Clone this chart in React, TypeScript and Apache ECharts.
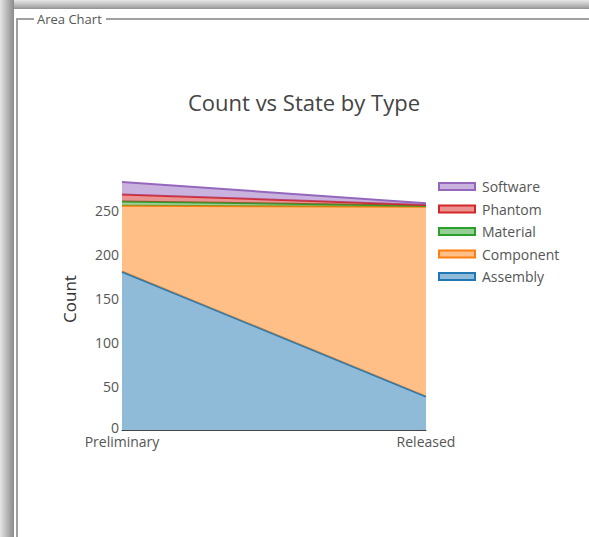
import React, { useEffect, useRef } from "react";
import * as echarts from "echarts";

const categories = ["Preliminary", "Released"];
const seriesNames = ["Assembly", "Component", "Material", "Phantom", "Software"];
const assembly = [180, 38];
const component = [75, 216];
const material = [5, 1];
const phantom = [8, 1];
const software = [14, 2];
const yTicks = [0, 50, 100, 150, 200, 250];
const legendOrder = ["Software", "Phantom", "Material", "Component", "Assembly"];

const colors: Record<string, string> = {
  Assembly: "#1f77b4",
  Component: "#ff7f0e",
  Material: "#2ca02c",
  Phantom: "#d62728",
  Software: "#9467bd",
};

function rgba(hex: string, a: number) {
  const r = parseInt(hex.slice(1, 3), 16);
  const g = parseInt(hex.slice(3, 5), 16);
  const b = parseInt(hex.slice(5, 7), 16);
  return `rgba(${r},${g},${b},${a})`;
}

export default function App() {
  const ref = useRef<HTMLDivElement>(null);
  useEffect(() => {
    if (!ref.current) return;
    const chart = echarts.init(ref.current, undefined, { renderer: "svg" });
    const values = [assembly, component, material, phantom, software];
    const font = "'Open Sans', 'Noto Sans', sans-serif";
    chart.setOption({
      animation: false,
      backgroundColor: "#ffffff",
      textStyle: { fontFamily: font },
      graphic: [
        {
          type: "rect",
          silent: true,
          z: -10,
          shape: { x: 0, y: 0, width: 589, height: 537 },
          style: { fill: "#c4c4c4" },
        },
        {
          type: "rect",
          silent: true,
          z: -9,
          shape: { x: 0, y: 0, width: 14, height: 537 },
          style: {
            fill: new echarts.graphic.LinearGradient(0, 0, 1, 0, [
              { offset: 0, color: "#e6e6e6" },
              { offset: 0.8, color: "#9c9c9c" },
              { offset: 1, color: "#8a8a8a" },
            ]),
          },
        },
        {
          type: "rect",
          silent: true,
          z: -9,
          shape: { x: 14, y: 0, width: 575, height: 9 },
          style: {
            fill: new echarts.graphic.LinearGradient(0, 0, 0, 1, [
              { offset: 0, color: "#e8e8e8" },
              { offset: 0.8, color: "#a8a8a8" },
              { offset: 1, color: "#909090" },
            ]),
          },
        },
        {
          type: "rect",
          silent: true,
          z: -8,
          shape: { x: 14, y: 9, width: 575, height: 528 },
          style: { fill: "#ffffff" },
        },
        {
          type: "polyline",
          silent: true,
          z: -7,
          shape: { points: [[34, 19], [17, 19], [17, 537]] },
          style: { stroke: "#a0a0a0", lineWidth: 2, fill: null },
        },
        {
          type: "line",
          silent: true,
          z: -7,
          shape: { x1: 106, y1: 19, x2: 589, y2: 19 },
          style: { stroke: "#a0a0a0", lineWidth: 2 },
        },
        {
          type: "text",
          silent: true,
          x: 37,
          y: 19,
          style: {
            text: "Area Chart",
            fill: "#555",
            font: `13px ${font}`,
            verticalAlign: "middle",
          },
        },
      ],
      title: {
        text: "Count vs State by Type",
        left: 304,
        textAlign: "center",
        top: 91,
        padding: 0,
        textStyle: { color: "#444", fontSize: 22, fontWeight: "normal", fontFamily: font },
      },
      legend: {
        data: legendOrder.map((n) => ({
          name: n,
          icon: "rect",
          itemStyle: { color: rgba(colors[n], 0.5), borderColor: colors[n], borderWidth: 2 },
        })),
        orient: "vertical",
        left: 438,
        top: 179.5,
        padding: 0,
        itemWidth: 36,
        itemHeight: 7,
        itemGap: 8.5,
        textStyle: { color: "#555", fontSize: 14, fontFamily: font, padding: [0, 0, 0, 2] },
      },
      grid: { left: 122, right: 163, top: 168, bottom: 107 },
      xAxis: {
        type: "category",
        data: categories,
        boundaryGap: false,
        axisLine: { show: true, lineStyle: { color: "#444", width: 1 } },
        axisTick: { show: false },
        axisLabel: { color: "#555", fontSize: 14, margin: 4, fontFamily: font },
        splitLine: { show: false },
      },
      yAxis: {
        type: "value",
        min: 0,
        max: 298,
        interval: 50,
        name: "Count",
        nameLocation: "middle",
        nameGap: 44,
        nameTextStyle: { color: "#333", fontSize: 17, fontFamily: font },
        axisLine: { show: false },
        axisTick: { show: false },
        splitLine: { show: false },
        axisLabel: {
          color: "#555",
          fontSize: 14,
          margin: 3,
          showMaxLabel: false,
          fontFamily: font,
          formatter: (v: number) =>
            v === 0 ? "{z|0}" : yTicks.includes(v) ? String(v) : "",
          rich: {
            z: { color: "#555", fontSize: 14, fontFamily: font, padding: [0, 0, 5, 0] },
          },
        },
      },
      series: seriesNames.map((n, i) => ({
        name: n,
        type: "line",
        stack: "total",
        data: values[i],
        symbol: "none",
        lineStyle: { color: colors[n], width: 2 },
        itemStyle: { color: colors[n] },
        areaStyle: { color: rgba(colors[n], 0.5), opacity: 1 },
        z: 2 + i,
      })),
    });
    return () => chart.dispose();
  }, []);
  return (
    <div
      ref={ref}
      style={{ position: "fixed", left: 0, top: 0, width: 589, height: 537 }}
    />
  );
}
